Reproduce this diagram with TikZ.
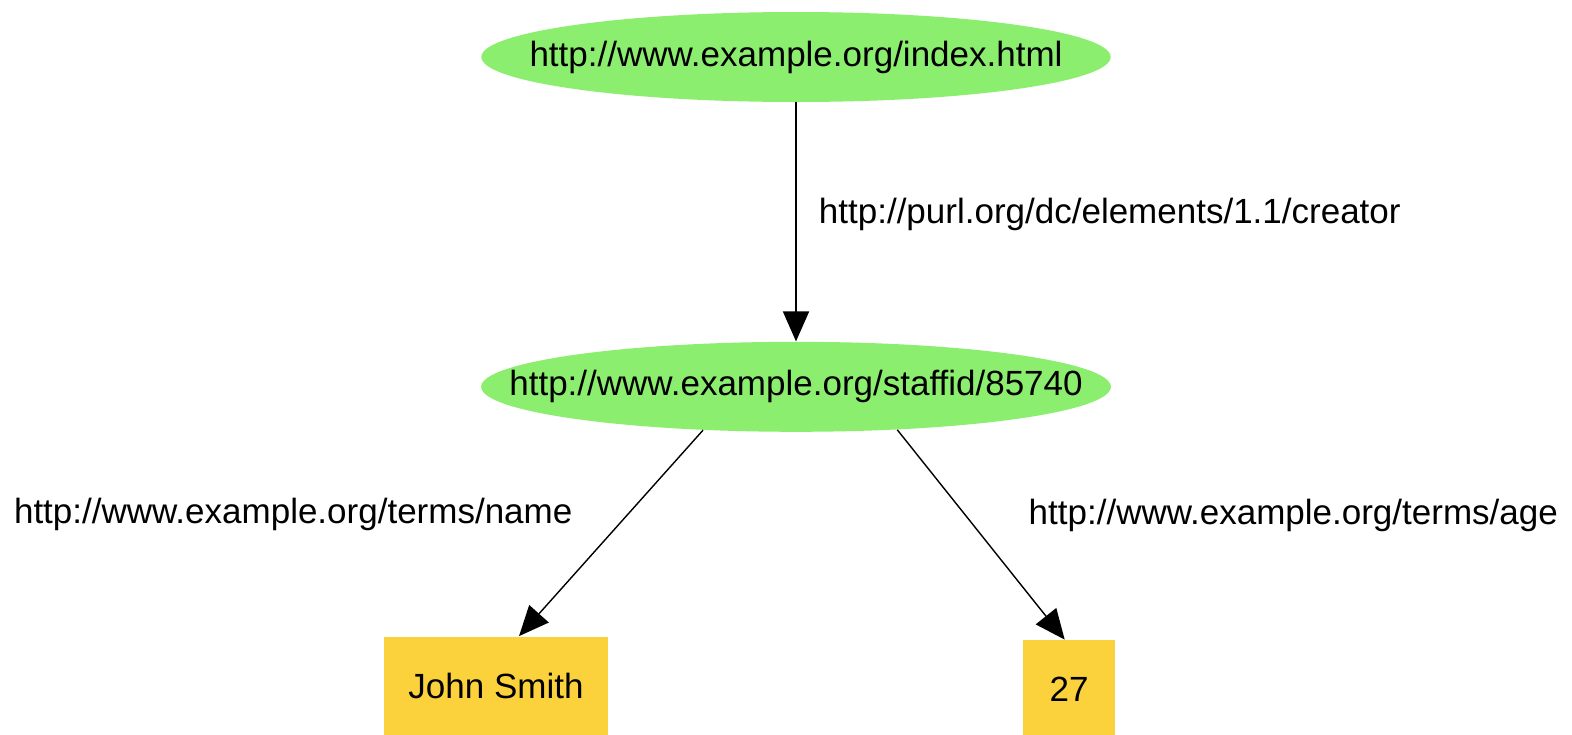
\documentclass[tikz,border=0pt]{standalone}
\usepackage{fontspec}
\setmainfont{Liberation Sans}
\usepackage{tikz}
\usetikzlibrary{positioning}
\usetikzlibrary{arrows.meta}
\usetikzlibrary{shapes}
\definecolor{resgreen}{RGB}{140,238,110}
\definecolor{litgold}{RGB}{252,210,60}
\tikzset{res node/.style={ellipse,fill=resgreen,minimum height=45pt,inner ysep=0pt},
	lit node/.style={rectangle,fill=litgold,minimum height=49pt,inner sep=0pt},
	prop label/.style={inner sep=0pt},}

\begin{document}
\begin{tikzpicture}[x=0.5pt,y=-0.5pt,>={Triangle[length=15pt,width=13pt]},font=\fontsize{17.5}{21}\selectfont]
	\useasboundingbox (0,0) rectangle (1572,734);
	\node[res node, inner xsep=-22pt] (idx) at (796,57) {http://www.example.org/index.html};
	\node[res node, inner xsep=-32pt] (staff) [below = 119.5pt of idx] {http://www.example.org/staffid/85740};
	\node[lit node, minimum width=112pt] (john) at (496,685.5) {John Smith};
	\node[lit node, minimum width=46pt] (age) at (1069,689) {27};

	\path[draw,line width=0.7pt]
	(idx) edge [->, line width=0.9pt] node[prop label, right=11pt, yshift=3.5pt] {http://purl.org/dc/elements/1.1/creator} (staff)
	(staff.205) edge [->] node[prop label, left=19pt, yshift=9.5pt] {http://www.example.org/terms/name} (john.65)
	(staff.337) edge [->] node[prop label, right=23.5pt, yshift=9.5pt] {http://www.example.org/terms/age} (age.95);
\end{tikzpicture}
\end{document}
